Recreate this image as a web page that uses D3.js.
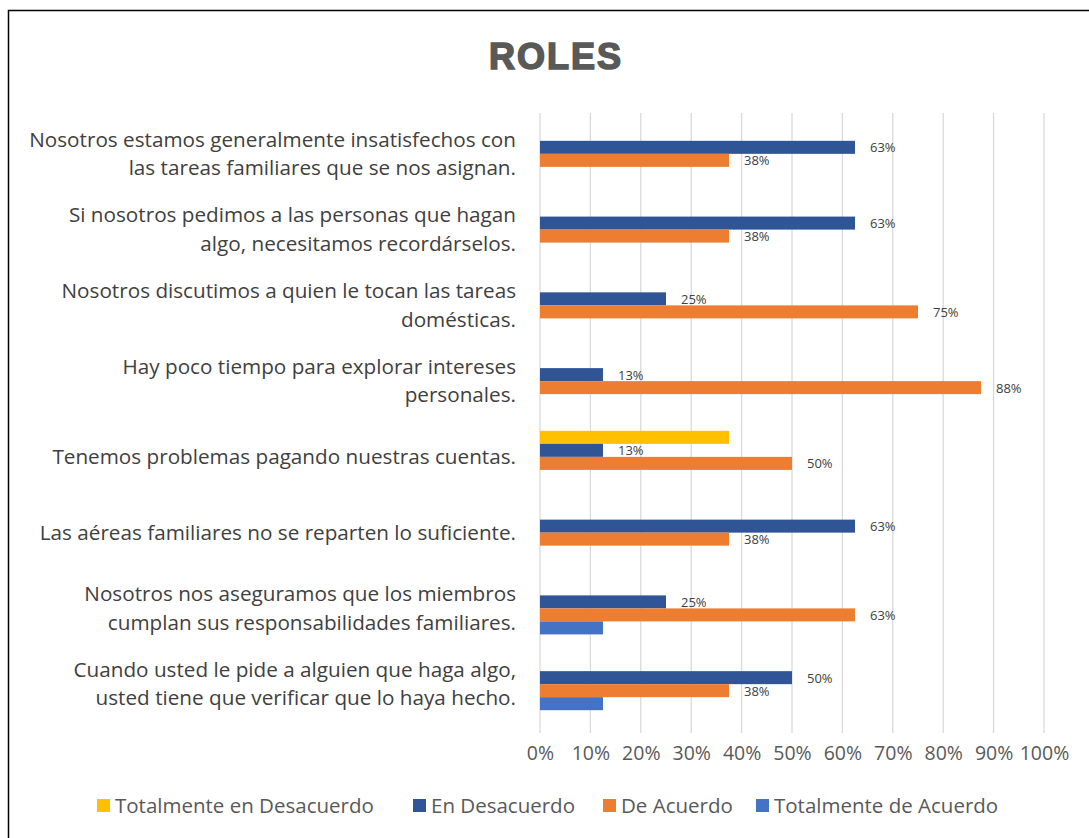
<!DOCTYPE html>
<html><head><meta charset="utf-8">
<script src="https://cdn.jsdelivr.net/npm/d3@7"></script>
<style>body{margin:0;background:#fff;} svg{display:block;}</style>
</head><body>
<script>
const categories = [
  ["Nosotros estamos generalmente insatisfechos con", "las tareas familiares que se nos asignan."],
  ["Si nosotros pedimos a las personas que hagan", "algo, necesitamos recordárselos."],
  ["Nosotros discutimos a quien le tocan las tareas", "domésticas."],
  ["Hay poco tiempo para explorar intereses", "personales."],
  ["Tenemos problemas pagando nuestras cuentas."],
  ["Las aéreas familiares no se reparten lo suficiente."],
  ["Nosotros nos aseguramos que los miembros", "cumplan sus responsabilidades familiares."],
  ["Cuando usted le pide a alguien que haga algo,", "usted tiene que verificar que lo haya hecho."]
];
const seriesNames = ["Totalmente en Desacuerdo", "En Desacuerdo", "De Acuerdo", "Totalmente de Acuerdo"];
const totDesacuerdo = [null, null, null, null, 37.5, null, null, null];
const enDesacuerdo = [62.5, 62.5, 25, 12.5, 12.5, 62.5, 25, 50];
const deAcuerdo = [37.5, 37.5, 75, 87.5, 50, 37.5, 62.5, 37.5];
const totAcuerdo = [null, null, null, null, null, null, 12.5, 12.5];
const showLabels = [false, true, true, false];
const seriesColors = ["#FFC000", "#2F5597", "#ED7D31", "#4472C4"];
const tickValues = [0,10,20,30,40,50,60,70,80,90,100];

const W = 1089, H = 838;
const svg = d3.select("body").append("svg").attr("width", W).attr("height", H);
const font = "'Open Sans', sans-serif";

svg.append("rect").attr("x", 8.5).attr("y", 10.5).attr("width", W + 10).attr("height", H + 10)
  .attr("fill", "#fff").attr("stroke", "#000").attr("stroke-width", 1.5);

svg.append("text").attr("x", 556).attr("y", 69).attr("text-anchor", "middle")
  .attr("font-family", "'Liberation Sans', Arial, sans-serif").attr("font-weight", "bold")
  .attr("font-size", 36).attr("letter-spacing", 2).attr("fill", "#595959").attr("stroke", "#595959").attr("stroke-width", 1.6)
  .text("ROLES");

const x = d3.scaleLinear().domain([0, 100]).range([540, 1044]);
const y = d3.scaleBand().domain(d3.range(categories.length)).range([116, 722]).paddingInner(0.313).paddingOuter(0.156);
const ys = d3.scaleBand().domain(d3.range(4)).range([0, y.bandwidth()]);

// gridlines
svg.append("g").selectAll("line").data(tickValues).join("line")
  .attr("x1", d => x(d)).attr("x2", d => x(d)).attr("y1", 113).attr("y2", 733)
  .attr("stroke", "#d9d9d9").attr("stroke-width", 1.3);

// axis
const axis = d3.axisBottom(x).tickValues(tickValues).tickFormat(d => d + "%").tickSize(0).tickPadding(0);
const ag = svg.append("g").attr("transform", "translate(0,760)").call(axis);
ag.select(".domain").remove();
ag.selectAll("text").attr("font-family", font).attr("font-size", 19.5).attr("fill", "#595959").attr("dy", 0);

const allSeries = [totDesacuerdo, enDesacuerdo, deAcuerdo, totAcuerdo];
allSeries.forEach((vals, si) => {
  const g = svg.append("g");
  const data = vals.map((v, i) => ({v, i})).filter(d => d.v !== null);
  g.selectAll("rect").data(data).join("rect")
    .attr("x", x(0)).attr("y", d => y(d.i) + ys(si))
    .attr("width", d => x(d.v) - x(0)).attr("height", ys.bandwidth())
    .attr("fill", seriesColors[si]);
  if (showLabels[si]) {
    g.selectAll("text").data(data).join("text")
      .attr("x", d => x(d.v) + 15).attr("y", d => y(d.i) + ys(si) + ys.bandwidth()/2 + 5)
      .attr("font-family", font).attr("font-size", 13).attr("fill", "#404040")
      .text(d => Math.round(d.v) + "%");
  }
});

// category labels
const cl = svg.append("g");
categories.forEach((lines, i) => {
  const cy = y(i) + y.bandwidth()/2;
  const lh = 28.5;
  const t = cl.append("text").attr("text-anchor", "end").attr("font-family", font)
    .attr("font-size", 20.7).attr("fill", "#404040");
  lines.forEach((ln, k) => {
    t.append("tspan").attr("x", 516).attr("y", cy + (k - (lines.length-1)/2) * lh + 7).text(ln);
  });
});

// legend
const legendX = [97, 413, 603, 756];
const lg = svg.append("g");
seriesNames.forEach((n, i) => {
  lg.append("rect").attr("x", legendX[i]).attr("y", 799).attr("width", 13).attr("height", 13).attr("fill", seriesColors[i]);
  lg.append("text").attr("x", legendX[i] + 18).attr("y", 813).attr("font-family", font).attr("font-size", 20.5)
    .attr("fill", "#595959").text(n);
});
</script>
</body></html>
